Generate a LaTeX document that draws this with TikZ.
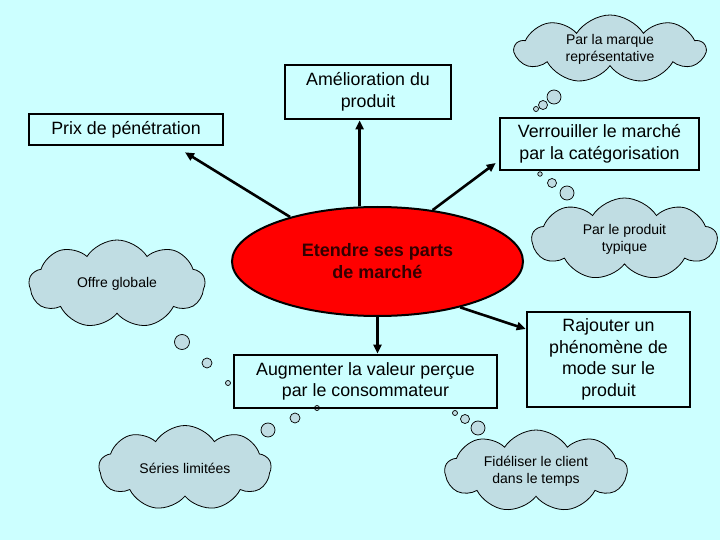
\documentclass[tikz,border=0pt]{standalone}
\usepackage{fontspec}
\setmainfont{Liberation Sans}
\usetikzlibrary{shapes.geometric,shapes.symbols,arrows.meta,calc}
\definecolor{bg}{RGB}{204,255,255}
\definecolor{cloudfill}{RGB}{192,221,227}
\definecolor{elltext}{RGB}{51,0,0}
\begin{document}
\begin{tikzpicture}[x=1pt,y=-1pt,
  box/.style={draw=black,line width=2.6pt,align=center,font=\fontsize{17.8}{21.5}\selectfont,inner sep=0pt},
  thought/.style={cloud,cloud puffs=9,cloud puff arc=115,cloud ignores aspect,draw=black,line width=0.8pt,fill=cloudfill,align=center,inner sep=0pt,font=\fontsize{14}{17}\selectfont},
  bubble/.style={circle,draw=black,line width=0.7pt,fill=cloudfill,inner sep=0pt},
  arr/.style={line width=2.6pt,-{Triangle[length=9pt,width=8pt]}}]
\fill[bg] (0,0) rectangle (720,540);
\useasboundingbox (0,0) rectangle (720,540);
% clouds
\node[thought,minimum width=190pt,minimum height=68pt] (marque) at (610,49) {Par la marque\\représentative};
\node[bubble,minimum size=14pt] (m1) at (554,97) {};
\node[bubble,minimum size=9pt] (m2) at (543,105) {};
\node[bubble,minimum size=5pt] (m3) at (536,109) {};
\node[thought,minimum width=185pt,minimum height=82pt] (typ) at (624.5,239) {Par le produit\\typique};
\node[bubble,minimum size=14pt] (t1) at (567,193) {};
\node[bubble,minimum size=9pt] (t2) at (552,183) {};
\node[bubble,minimum size=4.5pt] (t3) at (540,174) {};
\node[thought,minimum width=176pt,minimum height=88pt] (offre) at (117,284) {Offre globale};
\node[bubble,minimum size=15pt] (o1) at (182,342) {};
\node[bubble,minimum size=10pt] (o2) at (207,363) {};
\node[bubble,minimum size=5pt] (o3) at (228,383) {};
\node[thought,minimum width=172pt,minimum height=85pt] (series) at (185,468) {Séries limitées};
\node[bubble,minimum size=14pt] (s1) at (268,430) {};
\node[bubble,minimum size=10pt] (s2) at (295,418) {};
\node[bubble,minimum size=5pt] (s3) at (317,408) {};
\node[thought,minimum width=182pt,minimum height=82pt] (fid) at (536,471) {Fidéliser le client\\dans le temps};
\node[bubble,minimum size=14pt] (f1) at (478,428) {};
\node[bubble,minimum size=9pt] (f2) at (465,419) {};
\node[bubble,minimum size=5pt] (f3) at (455,413) {};
% boxes
\node[box,minimum width=166pt,minimum height=54pt] (amel) at (368,92) {Amélioration du\\produit};
\node[box,minimum width=194pt,minimum height=31pt] (prix) at (126,129.5) {Prix de pénétration};
\node[box,minimum width=199pt,minimum height=52pt] (verr) at (599.5,144) {Verrouiller le marché\\par la catégorisation};
\node[box,minimum width=263pt,minimum height=53pt] (aug) at (365.5,381.5) {Augmenter la valeur perçue\\par le consommateur};
\node[box,minimum width=163pt,minimum height=95pt] (raj) at (608.5,359.5) {Rajouter un\\phénomène de\\mode sur le\\produit};
% central ellipse
\node[ellipse,draw=black,line width=2pt,fill=red,minimum width=291pt,minimum height=109pt,inner sep=0pt,align=center,text=elltext,font=\bfseries\fontsize{18}{22}\selectfont] (ell) at (377.5,261.5) {Etendre ses parts\\de marché};
% arrows
\draw[arr] (ell.108) -- (ell.108 |- amel.south);
\draw[arr] (ell.153) -- ([xshift=59pt,yshift=-6pt]prix.south);
\draw[arr] (ell.43) -- ([xshift=-3pt,yshift=-19pt]verr.west);
\draw[arr] (ell.south) -- (ell.south |- aug.north);
\draw[arr] (ell.331) -- ([yshift=30.5pt]raj.west);
\end{tikzpicture}
\end{document}
